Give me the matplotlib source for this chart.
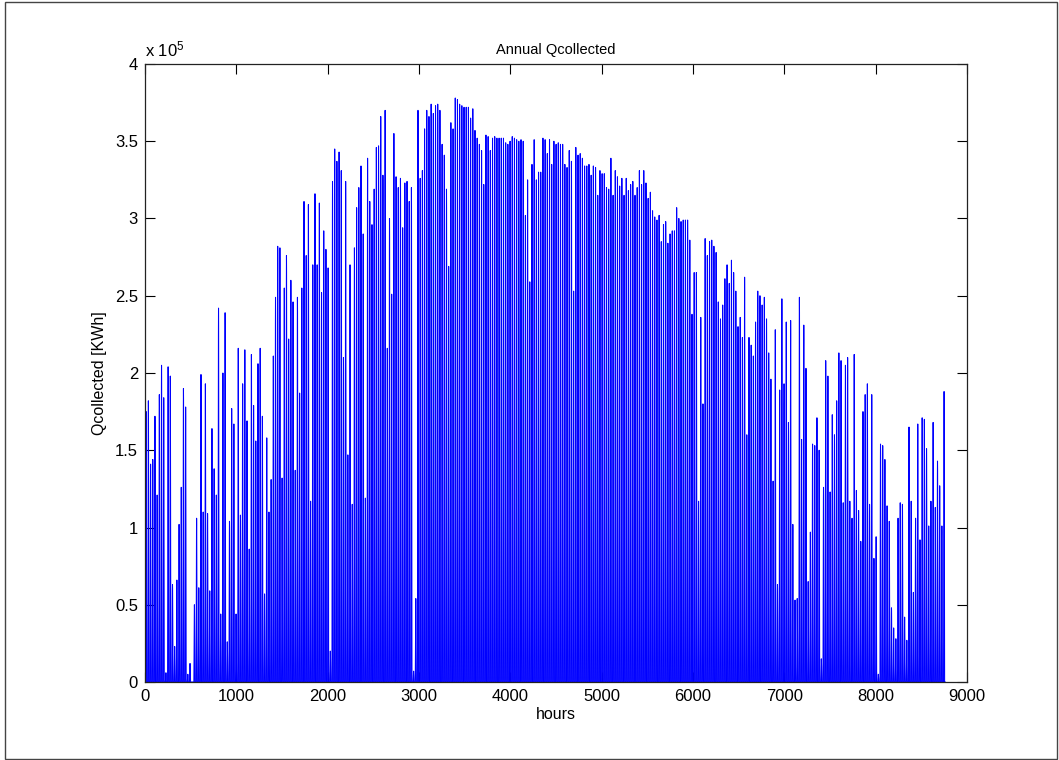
import numpy as np
import matplotlib
matplotlib.use("Agg")
import matplotlib.pyplot as plt
from matplotlib.patches import Rectangle

plt.rcParams['font.family'] = ['Liberation Sans', 'DejaVu Sans']
plt.rcParams['mathtext.fontset'] = 'custom'
plt.rcParams['mathtext.rm'] = 'Liberation Sans'
plt.rcParams['mathtext.it'] = 'Liberation Sans'

# Daily peak of Qcollected (units of 1e5 KWh), one value per day of the year
daily_peak = [
    1.75, 1.82, 1.41, 1.44, 1.72, 1.21, 1.86, 2.05, 1.84, 0.06,
    2.04, 1.98, 0.63, 0.23, 0.66, 1.02, 1.26, 1.90, 1.78, 0.05,
    0.12, 0.00, 0.50, 1.06, 0.61, 1.99, 1.10, 1.93, 1.09, 0.59,
    1.64, 1.38, 1.21, 2.42, 0.44, 2.00, 2.39, 0.26, 1.04, 1.77,
    1.67, 0.44, 2.16, 1.08,
    1.93, 2.15, 1.69, 0.86, 2.12, 1.79, 1.56, 2.06, 2.16, 1.72,
    0.57, 1.58, 1.10, 1.31, 2.11, 2.49, 2.82, 2.81, 1.32, 2.55,
    2.76, 2.22, 2.60, 2.46, 1.37, 2.49, 1.87, 2.55, 3.11, 2.76,
    3.09, 1.17, 2.70, 3.16, 2.70, 3.10, 2.52, 2.92, 2.80, 2.68,
    0.20, 3.24,
    3.45, 3.37, 3.43, 3.31, 2.10, 3.24, 1.47, 2.70, 1.15, 2.81,
    3.07, 3.20, 3.34, 2.90, 1.19, 3.39, 3.11, 2.96, 3.19, 3.46,
    3.47, 3.66, 3.28, 3.70, 2.16, 3.00, 2.51, 3.55, 3.27, 3.20,
    3.26, 2.94, 3.23, 3.24, 3.11, 3.20, 0.07, 0.54, 3.70, 3.26,
    3.31, 3.58, 3.70, 3.66,
    3.74, 3.68, 3.73, 3.74, 3.70, 3.48, 3.41, 3.19, 2.69, 3.62,
    3.58, 3.78, 3.77, 3.74, 3.73, 3.72, 3.72, 3.72, 3.65, 3.71,
    3.57, 3.52, 3.48, 3.44, 3.22, 3.54, 3.53, 3.44, 3.52, 3.53,
    3.52, 3.52, 3.52, 3.52, 3.49, 3.48, 3.50, 3.53, 3.52, 3.51,
    3.50, 3.51, 3.50,
    3.02, 3.25, 2.59, 3.35, 3.51, 3.25, 3.30, 3.30, 3.52, 3.51,
    3.42, 3.51, 3.35, 3.50, 3.48, 3.49, 3.48, 3.48, 3.35, 3.33,
    3.44, 3.37, 2.53, 3.46, 3.41, 3.42, 3.39, 3.34, 3.34, 3.35,
    3.28, 3.34, 3.33, 3.15, 3.31, 3.29, 3.29, 3.20, 3.19, 3.39,
    3.15, 3.31, 3.27,
    3.21, 3.26, 3.15, 3.26, 3.18, 3.22, 3.24, 3.15, 3.20, 3.31,
    3.22, 3.31, 3.23, 3.13, 3.17, 3.05, 3.01, 2.99, 3.02, 2.85,
    2.96, 2.98, 2.84, 2.90, 2.92, 2.92, 3.07, 3.00, 2.98, 2.99,
    2.99, 2.99, 2.86, 2.38, 2.65, 2.65, 1.17, 2.36, 1.80, 2.87,
    2.76, 2.85, 2.86,
    2.82, 2.78, 2.46, 2.35, 2.44, 2.61, 2.70, 2.58, 2.73, 2.65,
    2.53, 2.30, 2.36, 2.23, 2.62, 1.60, 2.23, 2.18, 2.11, 2.33,
    2.53, 2.50, 2.44, 2.49, 2.35, 2.13, 1.96, 1.30, 2.28, 0.63,
    1.89, 2.48, 1.93, 2.33, 1.68, 2.34, 1.02, 0.53, 0.54, 2.49,
    1.57, 2.31, 2.03, 0.65,
    0.97, 1.54, 1.53, 1.71, 1.50, 0.15, 1.26, 2.08, 1.98, 1.23,
    1.73, 1.60, 1.82, 2.13, 2.08, 1.16, 2.05, 2.10, 1.17, 1.06,
    2.12, 1.24, 1.11, 0.91, 1.75, 1.86, 1.93, 1.15, 1.86, 0.80,
    0.94, 0.05, 1.54, 1.53, 1.44, 1.14, 1.04, 0.48, 0.35, 0.28,
    1.06, 1.16, 1.15,
    0.42, 0.27, 1.65, 1.17, 0.58, 1.06, 1.67, 0.92, 1.71, 1.70,
    1.51, 1.01, 1.17, 1.68, 1.13, 1.43, 1.27, 1.01, 1.88,
]

# Typical hourly shape of a day (fraction of the daily peak), hours 0..23
hour_profile = [0, 0, 0, 0, 0, 0, 0, 0.10, 0.32, 0.57, 0.78, 0.93,
                1.00, 0.96, 0.83, 0.62, 0.36, 0.12, 0, 0, 0, 0, 0, 0]

scale = 1e5
x_ticks = [0, 1000, 2000, 3000, 4000, 5000, 6000, 7000, 8000, 9000]
y_tick_labels = ['0', '0.5', '1', '1.5', '2', '2.5', '3', '3.5', '4']

q_hourly = np.outer(np.array(daily_peak) * scale, np.array(hour_profile)).ravel()
hours = np.arange(1, len(q_hourly) + 1)

fig = plt.figure(figsize=(10.59, 7.60), dpi=100)
ax = fig.add_axes([145 / 1059, 78 / 760, 822 / 1059, 618 / 760])
ax.plot(hours, q_hourly, color=(0, 0, 1), linewidth=0.75)

ax.set_xlim(0, 9000)
ax.set_ylim(0, 4e5)
ax.set_xticks(x_ticks)
ax.set_xticklabels([str(t) for t in x_ticks])
ax.set_yticks([i * 0.5e5 for i in range(len(y_tick_labels))])
ax.set_yticklabels(y_tick_labels)
ax.tick_params(direction='in', length=7, width=0.8, top=True, right=True,
               labelsize=12, colors='black', pad=5)
for sp in ax.spines.values():
    sp.set_linewidth(0.9)
    sp.set_color('#222222')

ax.set_title('Annual Qcollected', fontsize=10.5, pad=7)
ax.set_xlabel('hours', fontsize=11.5, labelpad=2)
ax.set_ylabel('Qcollected [KWh]', fontsize=11.5, labelpad=6)
ax.text(0.0, 1.008, r'x 10$^{5}$', transform=ax.transAxes, ha='left',
        va='bottom', fontsize=12)

fig.patches.append(Rectangle((5 / 1059, 1 / 760), 1052 / 1059, 757 / 760,
                             transform=fig.transFigure, fill=False,
                             edgecolor='#444444', linewidth=1))

fig.savefig('out.png', dpi=100)
